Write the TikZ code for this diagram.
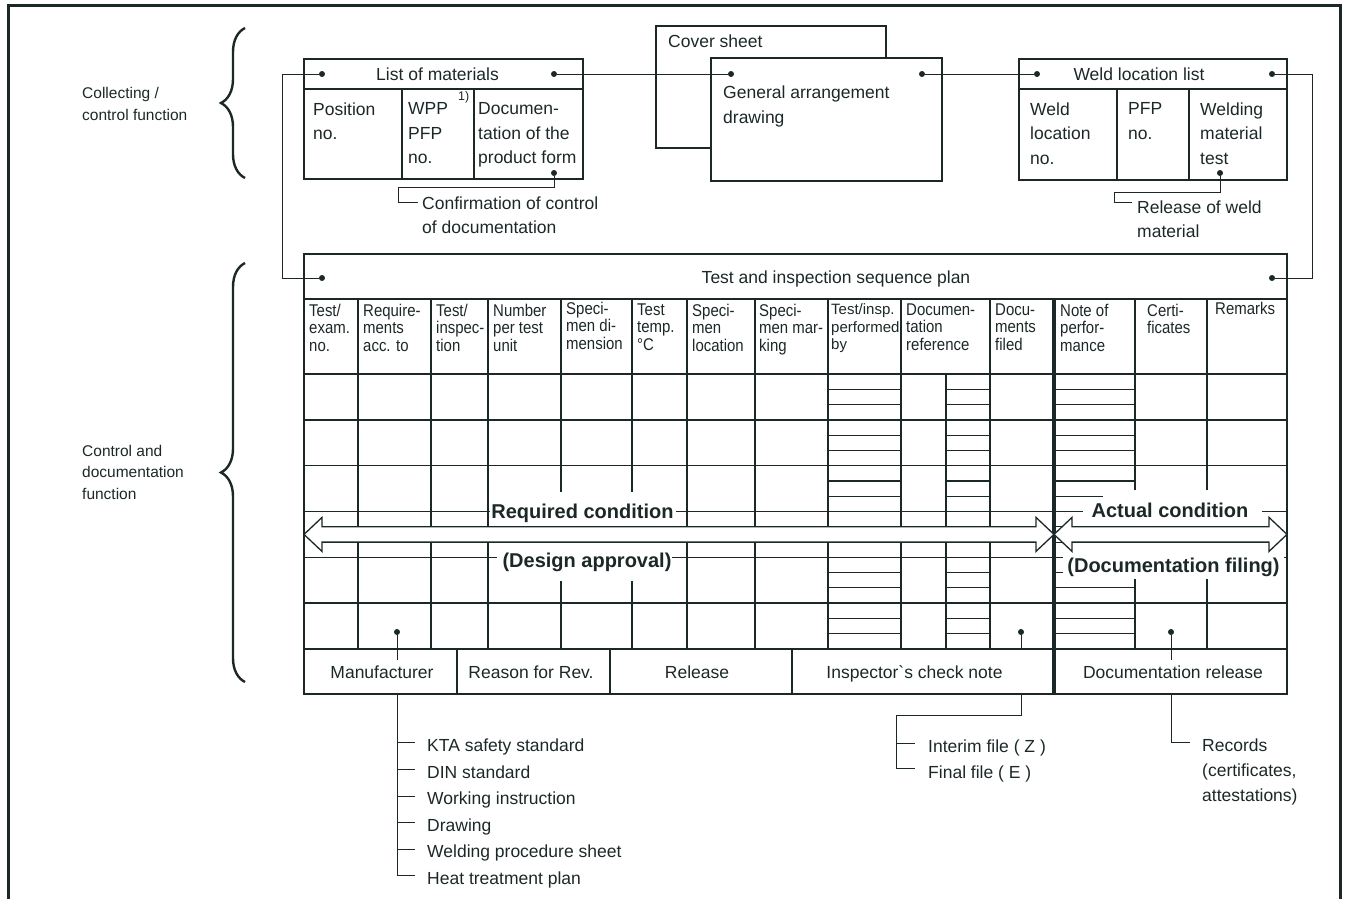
\documentclass[tikz,border=0pt]{standalone}
\usepackage{fontspec}
\setmainfont{Liberation Sans}
\newfontfamily\narrowfont{Liberation Sans}[FakeStretch=0.88]
\usetikzlibrary{decorations.pathreplacing}
\definecolor{ink}{RGB}{28,40,40}
\newcommand\fsz[2]{\fontsize{#1}{#2}\selectfont}
\begin{document}
\begin{tikzpicture}[x=1pt,y=-1pt,
  every node/.style={text=ink,inner sep=0pt},
  tl/.style={draw=ink,line width=1.5pt},
  sub/.style={draw=ink,line width=1.1pt},
  conn/.style={draw=ink,line width=1pt},
  dot/.style={circle,fill=ink,minimum size=6pt,inner sep=0pt},
  txt/.style={font=\fsz{17.5}{24.5},align=left,anchor=north west},
  one/.style={font=\fsz{17.5}{20},anchor=base},
  onew/.style={font=\fsz{17.5}{20},anchor=base west},
  hdr/.style={font=\narrowfont\fsz{17}{17.5},align=left,anchor=north west},
  side/.style={font=\fsz{15.5}{21.5},align=left,anchor=north west},
  big/.style={font=\bfseries\fsz{20}{20},anchor=base},
  brc/.style={draw=ink,line width=2.4pt,decorate,decoration={brace,amplitude=24pt}},
  arr/.style={draw=ink,fill=white,line width=1.3pt,line join=miter}
]
\useasboundingbox (0,0) rectangle (1348,899);
% frame
\draw[ink,line width=3pt] (8,899) -- (8,6) -- (1340,6) -- (1340,899);
% braces and side labels
\draw[brc] (245,178) -- (245,28);
\draw[brc] (245,682) -- (245,263);
\node[side] (s1) at (82,87.5) {Collecting /\\control function};
\node[side] (s2) at (82,445) {Control and\\documentation\\function};

% List of materials
\draw[tl] (304,59) rectangle (583,179);
\draw[tl] (304,89) -- (583,89) (402,89) -- (402,179) (474,89) -- (474,179);
\node[one] (lmT) at (437.5,80) {List of materials};
\node[txt] (lm1) at (313,102.5) {Position\\no.};
\node[txt] (lm2) at (408,102.5) {WPP\\PFP\\no.};
\node[font=\fsz{12.5}{12.5},anchor=base west] (lmS) at (458,100) {1)};
\node[txt] (lm3) at (478,102.5) {Documen-\\tation of the\\product form};
\node[txt,font=\fsz{17.5}{24}] (conf) at (422,196.5) {Confirmation of control\\of documentation};

% Cover sheet and general arrangement drawing
\draw[tl] (656,26) rectangle (886,148);
\node[onew] (cs) at (668,48) {Cover sheet};
\draw[tl,fill=white] (711,58) rectangle (942,181);
\node[txt,font=\fsz{17.5}{25}] (ga) at (723,85.5) {General arrangement\\drawing};

% Weld location list
\draw[tl] (1019,59) rectangle (1287,180);
\draw[tl] (1019,89) -- (1287,89) (1117,89) -- (1117,180) (1189,89) -- (1189,180);
\node[one] (wlT) at (1139,80) {Weld location list};
\node[txt] (wl1) at (1030,102.5) {Weld\\location\\no.};
\node[txt] (wl2) at (1128,102.5) {PFP\\no.};
\node[txt] (wl3) at (1200,102.5) {Welding\\material\\test};
\node[txt,font=\fsz{17.5}{24}] (rel) at (1137,200.5) {Release of weld\\material};

% Main table
\draw[tl] (304,254) rectangle (1287,694);
\draw[tl] (304,299) -- (1287,299);
\foreach \i in {0,...,6} \draw[tl] (304,{374+45.8333*\i}) -- (1287,{374+45.8333*\i});
\foreach \x in {358,431,488,561,632,687,755,828,901,990,1135,1207} \draw[tl] (\x,299) -- (\x,649);
\draw[tl] (946,374) -- (946,649);
\foreach \x in {457,610,792} \draw[tl] (\x,649) -- (\x,694);
\foreach \i in {0,...,5} \foreach \k in {1,2} {
  \pgfmathsetmacro\yy{374+45.8333*\i+15.2778*\k}
  \draw[sub] (828,\yy) -- (901,\yy) (946,\yy) -- (990,\yy) (1055,\yy) -- (1135,\yy);
}
\draw[ink,line width=3.5pt] (1054,299) -- (1054,694);
\node[one] (tT) at (836,283) {Test and inspection sequence plan};

% header texts
\node[hdr] (h1) at (309,303.5) {Test/\\exam.\\no.};
\node[hdr] (h2) at (363,303.5) {Require-\\ments\\acc. to};
\node[hdr] (h3) at (436,303.5) {Test/\\inspec-\\tion};
\node[hdr] (h4) at (493,303.5) {Number\\per test\\unit};
\node[hdr] (h5) at (566,301.5) {Speci-\\men di-\\mension};
\node[hdr] (h6) at (637,303.5) {Test\\temp.\\°C};
\node[hdr] (h7) at (692,303.5) {Speci-\\men\\location};
\node[hdr] (h8) at (759,303.5) {Speci-\\men mar-\\king};
\node[hdr,font=\fsz{15}{17.5}] (h9) at (831,303.5) {Test/insp.\\performed\\by};
\node[hdr] (h10) at (906,303.5) {Documen-\\tation\\reference};
\node[hdr] (h11) at (995,303.5) {Docu-\\ments\\filed};
\node[hdr] (h12) at (1060,303.5) {Note of\\perfor-\\mance};
\node[hdr] (h13) at (1147,303.5) {Certi-\\ficates};
\node[hdr] (h14) at (1215,301.5) {Remarks};

% masks behind the condition labels
\fill[white] (490,492) rectangle (676,526);
\fill[white] (497,543) rectangle (672,581);
\fill[white] (1083,499) rectangle (1262,526);
\fill[white] (1103,490) rectangle (1262,499);
\fill[white] (1063,543) rectangle (1284,579);

% arrows
\draw[arr] (304,534.4) -- (322,517.4) -- (322,526.8) -- (1036,526.8) -- (1036,517.4) -- (1054,534.4)
  -- (1036,551.4) -- (1036,542.1) -- (322,542.1) -- (322,551.4) -- cycle;
\draw[arr] (1054,534.4) -- (1072,517.4) -- (1072,526.8) -- (1269,526.8) -- (1269,517.4) -- (1287,534.4)
  -- (1269,551.4) -- (1269,542.1) -- (1072,542.1) -- (1072,551.4) -- cycle;
\node[big] (req) at (582.5,518) {Required condition};
\node[big] (des) at (587,567) {(Design approval)};
\node[big] (act) at (1170,517) {Actual condition};
\node[big] (dfil) at (1173.5,572) {(Documentation filing)};

% dots
\node[dot] (lmL) at (322,74) {};
\node[dot] (lmR) at (554,74) {};
\node[dot] (lmD) at (554,173) {};
\node[dot] (gaL) at (731,74) {};
\node[dot] (gaR) at (922,74) {};
\node[dot] (wlL) at (1037,74) {};
\node[dot] (wlR) at (1272,74) {};
\node[dot] (wlD) at (1220,173) {};
\node[dot] (tL) at (322,278) {};
\node[dot] (tR) at (1272,278) {};
\node[dot] (mD) at (397,632) {};
\node[dot] (iD) at (1021,632) {};
\node[dot] (dD) at (1171,632) {};

% top connectors
\draw[conn] (lmL) -- (282,74) |- (tL);
\draw[conn] (lmR) -- (gaL);
\draw[conn] (gaR) -- (wlL);
\draw[conn] (wlR) -- (1312,74) |- (tR);
\draw[conn] (lmD) -- (554,187) -| (398,202) -- (418,202);
\draw[conn] (wlD) -- (1220,192) -| (1114,202) -- (1132,202);

% bottom row labels
\node[one] (b1) at (382,678) {Manufacturer};
\node[one] (b2) at (531,678) {Reason for Rev.};
\node[one] (b3) at (697,678) {Release};
\node[one] (b4) at (914.5,678) {Inspector\textasciigrave s check note};
\node[one] (b5) at (1173,678) {Documentation release};

% bottom connectors
\draw[conn] (mD) -- (397,660);
\draw[conn] (397,694) -- (397,875) -- (415,875);
\foreach \y in {742,769,796,822,849} \draw[conn] (397,\y) -- (415,\y);
\node[onew] (k1) at (427,751) {KTA safety standard};
\node[onew] (k2) at (427,778) {DIN standard};
\node[onew] (k3) at (427,804.5) {Working instruction};
\node[onew] (k4) at (427,831) {Drawing};
\node[onew] (k5) at (427,857.5) {Welding procedure sheet};
\node[onew] (k6) at (427,884) {Heat treatment plan};

\draw[conn] (iD) -- (1021,649);
\draw[conn] (1021,694) -- (1021,715) -| (896,768) -- (915,768);
\draw[conn] (896,743) -- (915,743);
\node[onew] (if) at (928,752) {Interim file ( Z )};
\node[onew] (ff) at (928,778) {Final file ( E )};

\draw[conn] (dD) -- (1171,660);
\draw[conn] (1171,694) -- (1171,742) -- (1190,742);
\node[txt,font=\fsz{17.5}{25}] (rec) at (1202,738.5) {Records\\(certificates,\\attestations)};
\end{tikzpicture}
\end{document}
